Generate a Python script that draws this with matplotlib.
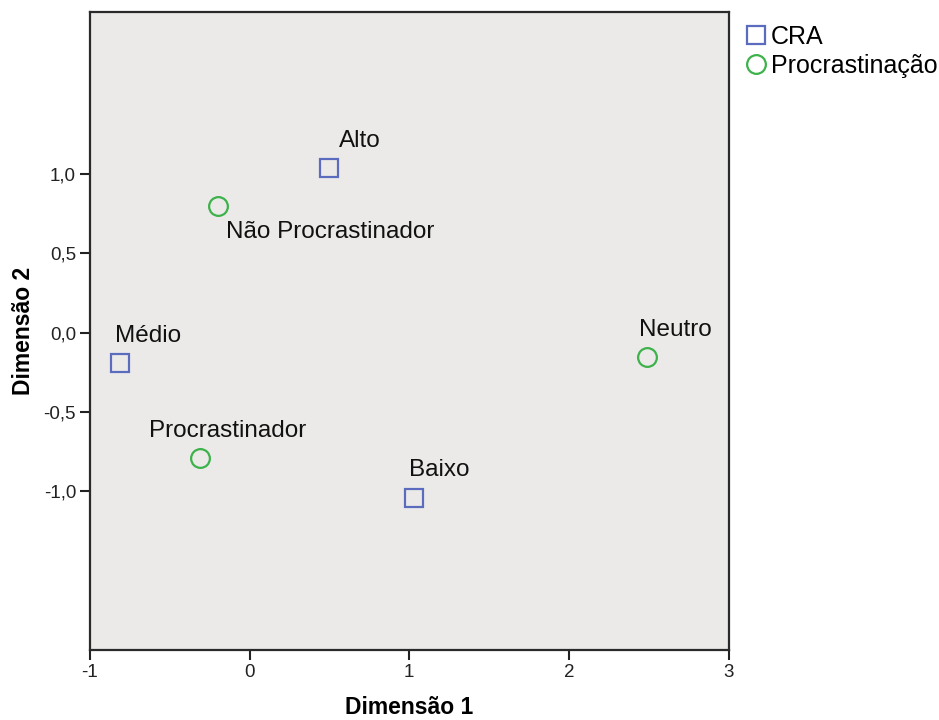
import matplotlib
matplotlib.use("Agg")
import matplotlib.pyplot as plt

plt.rcParams["font.family"] = ["Liberation Sans", "DejaVu Sans"]

# row / column coordinates of the correspondence analysis
cra_labels = ["Alto", "Médio", "Baixo"]
cra_dim1 = [0.50, -0.81, 1.03]
cra_dim2 = [1.04, -0.19, -1.04]

proc_labels = ["Não Procrastinador", "Neutro", "Procrastinador"]
proc_dim1 = [-0.20, 2.49, -0.31]
proc_dim2 = [0.80, -0.15, -0.79]

# label offsets (pixels) relative to each point
cra_offsets = [(9, 27), (-5, 27), (-5, 28)]
proc_offsets = [(8, -26), (-8, 27), (-51, 27)]

x_ticks = [-1, 0, 1, 2, 3]
y_ticks = [-1.0, -0.5, 0.0, 0.5, 1.0]

fig = plt.figure(figsize=(9.39, 7.2), dpi=100)
fig.subplots_adjust(left=0.0958, right=0.776, bottom=0.0972, top=0.983)
ax = fig.add_subplot(1, 1, 1)
ax.set_facecolor("#EBEAE9")

ax.plot(cra_dim1, cra_dim2, linestyle="none", marker="s", markersize=13,
        markerfacecolor="none", markeredgecolor="#5B6BBE", markeredgewidth=1.6,
        label="CRA")
ax.plot(proc_dim1, proc_dim2, linestyle="none", marker="o", markersize=13.5,
        markerfacecolor="none", markeredgecolor="#3DB24B", markeredgewidth=1.6,
        label="Procrastinação")

for labels, xs, ys, offs in [(cra_labels, cra_dim1, cra_dim2, cra_offsets),
                             (proc_labels, proc_dim1, proc_dim2, proc_offsets)]:
    for lab, x, y, off in zip(labels, xs, ys, offs):
        ax.annotate(lab, (x, y), xytext=off, textcoords="offset pixels",
                    ha="left", va="center", fontsize=17.5, color="#111111")

ax.set_xlim(-1, 3)
ax.set_ylim(-2.0, 2.02)
ax.set_xticks(x_ticks)
ax.set_xticklabels([str(t) for t in x_ticks])
ax.set_yticks(y_ticks)
ax.set_yticklabels([f"{t:.1f}".replace(".", ",") for t in y_ticks])
ax.tick_params(direction="out", length=7, width=1.5, labelsize=13.5,
               color="#222222", labelcolor="#222222", pad=3)

for s in ax.spines.values():
    s.set_linewidth(1.6)
    s.set_color("#2A2A2A")

ax.set_xlabel("Dimensão 1", fontsize=16.5, fontweight="bold", labelpad=11)
ax.set_ylabel("Dimensão 2", fontsize=16.5, fontweight="bold", labelpad=6)

ax.legend(loc="upper left", bbox_to_anchor=(1.005, 1.004), frameon=False,
          fontsize=18, handlelength=0.7, handletextpad=0.25, borderaxespad=0.2,
          labelspacing=0.2)

fig.savefig("out.png", dpi=100)
